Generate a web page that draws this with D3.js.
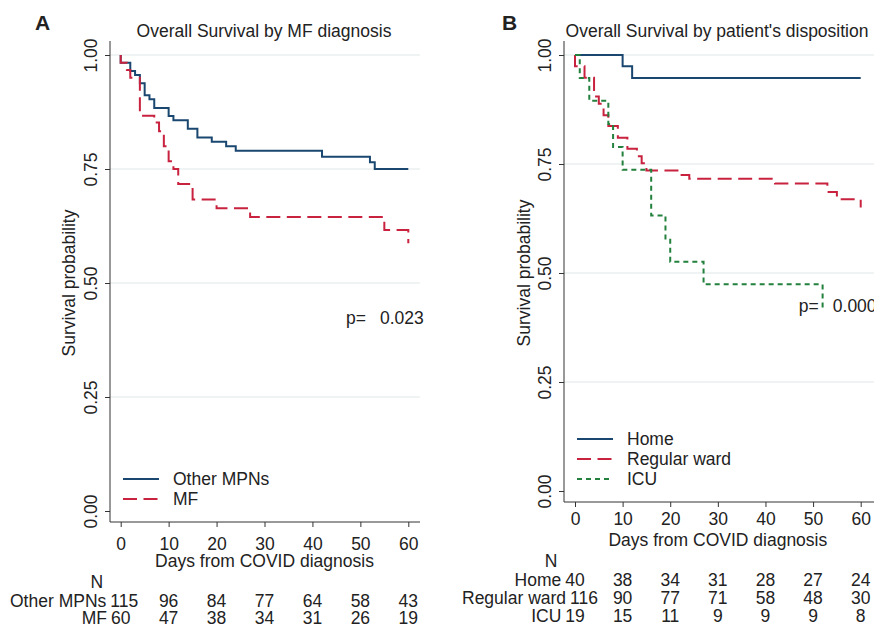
<!DOCTYPE html>
<html>
<head>
<meta charset="utf-8">
<script src="https://cdn.jsdelivr.net/npm/d3@7"></script>
<style>
  body { margin: 0; background: #fff; }
  text { font-family: "Liberation Sans", Arial, sans-serif; fill: #222; }
</style>
</head>
<body>
<div id="chart"></div>
<script>
// Data
const riskTimes = [0, 10, 20, 30, 40, 50, 60];
const yTicks = [0, 0.25, 0.5, 0.75, 1];

// Panel A: Kaplan-Meier steps
const timesOther = [0, 0, 2, 3, 4, 5, 6, 7, 10, 11, 14, 16, 19, 22, 24, 42, 52, 53, 60];
const survOther = [1, 0.983, 0.965, 0.956, 0.938, 0.912, 0.903, 0.884, 0.866, 0.857, 0.838, 0.819, 0.81, 0.8, 0.79, 0.777, 0.765, 0.75, 0.75];
const timesMF = [0, 0, 1.3, 2, 4, 7, 8, 9, 10, 11, 12, 15, 20, 27, 55, 60];
const survMF = [1, 0.983, 0.967, 0.95, 0.867, 0.852, 0.833, 0.8, 0.767, 0.75, 0.717, 0.683, 0.664, 0.645, 0.616, 0.587];

// Panel B
const timesHome = [0, 10, 12, 60];
const survHome = [1, 0.974, 0.947, 0.947];
const timesWard = [0, 0, 2, 4, 5, 6, 7, 9, 11, 13, 14, 15, 22, 24, 42, 53, 55, 60];
const survWard = [1, 0.974, 0.948, 0.905, 0.888, 0.862, 0.837, 0.81, 0.785, 0.768, 0.752, 0.735, 0.725, 0.716, 0.705, 0.686, 0.669, 0.65];
const timesICU = [0, 1, 3, 7, 8, 10, 16, 19, 20, 27, 52];
const survICU = [1, 0.947, 0.895, 0.842, 0.789, 0.737, 0.632, 0.579, 0.526, 0.474, 0.421];

// Numbers at risk
const riskOther = [115, 96, 84, 77, 64, 58, 43];
const riskMF = [60, 47, 38, 34, 31, 26, 19];
const riskHome = [40, 38, 34, 31, 28, 27, 24];
const riskWard = [116, 90, 77, 71, 58, 48, 30];
const riskICU = [19, 15, 11, 9, 9, 9, 8];

const pValueA = "0.023";
const pValueB = "0.000";

// Styles
const styles = {
  blue: { color: "#1a476f", dash: null },
  red: { color: "#c8223f", dash: "14,6.5" },
  green: { color: "#23803d", dash: "5,4" },
};

const FS = 17.5;

const svg = d3
  .select("#chart")
  .append("svg")
  .attr("width", 874)
  .attr("height", 629);

const zip = (ts, ss) => ts.map((t, i) => [t, ss[i]]);

function drawPanel(p) {
  const g = svg.append("g");

  const xScale = d3.scaleLinear().domain([0, 60]).range([p.x0, p.x60]);
  const yScale = d3.scaleLinear().domain([0, 1]).range([p.y0, p.y1]);

  // panel letter + title
  g.append("text")
    .attr("x", p.letterX)
    .attr("y", 30)
    .style("font-size", "21px")
    .style("font-weight", "bold")
    .text(p.letter);
  g.append("text")
    .attr("x", p.titleX)
    .attr("y", 37)
    .attr("text-anchor", "middle")
    .style("font-size", FS + "px")
    .text(p.title);

  // gridlines
  g.append("g")
    .selectAll("line")
    .data(yTicks.filter((d) => d > 0))
    .join("line")
    .attr("x1", p.axisX)
    .attr("x2", p.right)
    .attr("y1", (d) => yScale(d))
    .attr("y2", (d) => yScale(d))
    .attr("stroke", "#dfe7e7")
    .attr("stroke-width", 1);

  // y axis
  const yAxis = d3
    .axisLeft(yScale)
    .tickValues(yTicks)
    .tickSize(5)
    .tickFormat(d3.format(".2f"));
  const yAxisG = g
    .append("g")
    .attr("transform", `translate(${p.axisX},0)`)
    .call(yAxis);
  yAxisG.select(".domain").remove();
  yAxisG.selectAll(".tick line").attr("stroke", "#333");
  yAxisG
    .selectAll(".tick text")
    .attr("x", null)
    .attr("dy", null)
    .attr("fill", "#222")
    .attr("text-anchor", "middle")
    .attr("transform", `translate(${p.yTickBase - p.axisX},0) rotate(-90)`)
    .style("font-size", FS + "px")
    .style("font-family", '"Liberation Sans", Arial, sans-serif');

  // x axis
  const xAxis = d3.axisBottom(xScale).tickValues(riskTimes).tickSize(5);
  const xAxisG = g
    .append("g")
    .attr("transform", `translate(0,${p.axisY})`)
    .call(xAxis);
  xAxisG.select(".domain").remove();
  xAxisG.selectAll(".tick line").attr("stroke", "#333");
  xAxisG
    .selectAll(".tick text")
    .attr("y", p.xTickBase - p.axisY)
    .attr("dy", null)
    .attr("fill", "#222")
    .style("font-size", FS + "px")
    .style("font-family", '"Liberation Sans", Arial, sans-serif');

  // axis lines
  g.append("line")
    .attr("x1", p.axisX).attr("x2", p.axisX)
    .attr("y1", p.axisTop).attr("y2", p.axisY)
    .attr("stroke", "#333");
  g.append("line")
    .attr("x1", p.axisX).attr("x2", p.right)
    .attr("y1", p.axisY).attr("y2", p.axisY)
    .attr("stroke", "#333");

  // axis titles
  g.append("text")
    .attr("transform", `translate(${p.yTitleBase},${(p.y0 + p.y1) / 2}) rotate(-90)`)
    .attr("text-anchor", "middle")
    .style("font-size", FS + "px")
    .text("Survival probability");
  g.append("text")
    .attr("x", (p.x0 + p.x60) / 2)
    .attr("y", p.xTitleBase)
    .attr("text-anchor", "middle")
    .style("font-size", FS + "px")
    .text("Days from COVID diagnosis");

  // curves
  const lineGenerator = d3
    .line()
    .x((d) => xScale(d[0]))
    .y((d) => yScale(d[1]))
    .curve(d3.curveStepAfter);

  p.series.forEach((s) => {
    g.append("path")
      .datum(s.points)
      .attr("d", lineGenerator)
      .attr("fill", "none")
      .attr("stroke", s.style.color)
      .attr("stroke-width", 2)
      .attr("stroke-dasharray", s.style.dash);
  });

  // p value
  g.append("text")
    .attr("x", xScale(47))
    .attr("y", yScale(0.41))
    .style("font-size", FS + "px")
    .text("p=");
  g.append("text")
    .attr("x", xScale(47) + 34)
    .attr("y", yScale(0.41))
    .style("font-size", FS + "px")
    .text(p.pValue);

  // legend
  p.series.forEach((s, i) => {
    const ly = p.legendY + i * 20;
    g.append("line")
      .attr("x1", p.axisX + 13)
      .attr("x2", p.axisX + 49)
      .attr("y1", ly)
      .attr("y2", ly)
      .attr("stroke", s.style.color)
      .attr("stroke-width", 2)
      .attr("stroke-dasharray", s.style.dash);
    g.append("text")
      .attr("x", p.axisX + 63)
      .attr("y", ly + 6)
      .style("font-size", FS + "px")
      .text(s.name);
  });

  // risk table
  g.append("text")
    .attr("x", xScale(0) - 24)
    .attr("y", p.tableNY)
    .attr("text-anchor", "middle")
    .style("font-size", FS + "px")
    .text("N");

  p.series.forEach((s, i) => {
    const ry = p.tableRowY[i];
    const nums = g
      .append("g")
      .selectAll("text")
      .data(s.risk)
      .join("text")
      .attr("x", (d, j) => xScale(riskTimes[j]))
      .attr("y", ry)
      .attr("text-anchor", "middle")
      .style("font-size", FS + "px")
      .text((d) => d);
    const first = nums.filter((d, j) => j === 0);
    const firstW = first.node().getComputedTextLength();
    const label = g
      .append("text")
      .attr("y", ry)
      .attr("text-anchor", "end")
      .style("font-size", FS + "px")
      .text(s.name);
    const labelW = label.node().getComputedTextLength();
    let labelEnd = xScale(0) - firstW / 2 - 4;
    const shift = Math.max(0, p.tableLeft - (labelEnd - labelW));
    labelEnd += shift;
    label.attr("x", labelEnd);
    first.attr("x", xScale(0) + shift);
  });
}

drawPanel({
  letter: "A",
  letterX: 35,
  title: "Overall Survival by MF diagnosis",
  titleX: 264,
  axisX: 110,
  axisTop: 41,
  axisY: 522,
  right: 420,
  x0: 120.7,
  x60: 408.3,
  y0: 511,
  y1: 55,
  yTickBase: 97,
  yTitleBase: 75,
  xTickBase: 550,
  xTitleBase: 567,
  legendY: 479,
  tableNY: 588,
  tableRowY: [607, 624],
  tableLeft: 10,
  pValue: pValueA,
  series: [
    { name: "Other MPNs", style: styles.blue, points: zip(timesOther, survOther), risk: riskOther },
    { name: "MF", style: styles.red, points: zip(timesMF, survMF), risk: riskMF },
  ],
});

drawPanel({
  letter: "B",
  letterX: 502,
  title: "Overall Survival by patient's disposition",
  titleX: 717,
  axisX: 564,
  axisTop: 41,
  axisY: 502,
  right: 874,
  x0: 575,
  x60: 860.7,
  y0: 491,
  y1: 55,
  yTickBase: 551,
  yTitleBase: 530,
  xTickBase: 525,
  xTitleBase: 546,
  legendY: 439,
  tableNY: 567,
  tableRowY: [586, 604, 622],
  tableLeft: 462,
  pValue: pValueB,
  series: [
    { name: "Home", style: styles.blue, points: zip(timesHome, survHome), risk: riskHome },
    { name: "Regular ward", style: styles.red, points: zip(timesWard, survWard), risk: riskWard },
    { name: "ICU", style: styles.green, points: zip(timesICU, survICU), risk: riskICU },
  ],
});
</script>
</body>
</html>
